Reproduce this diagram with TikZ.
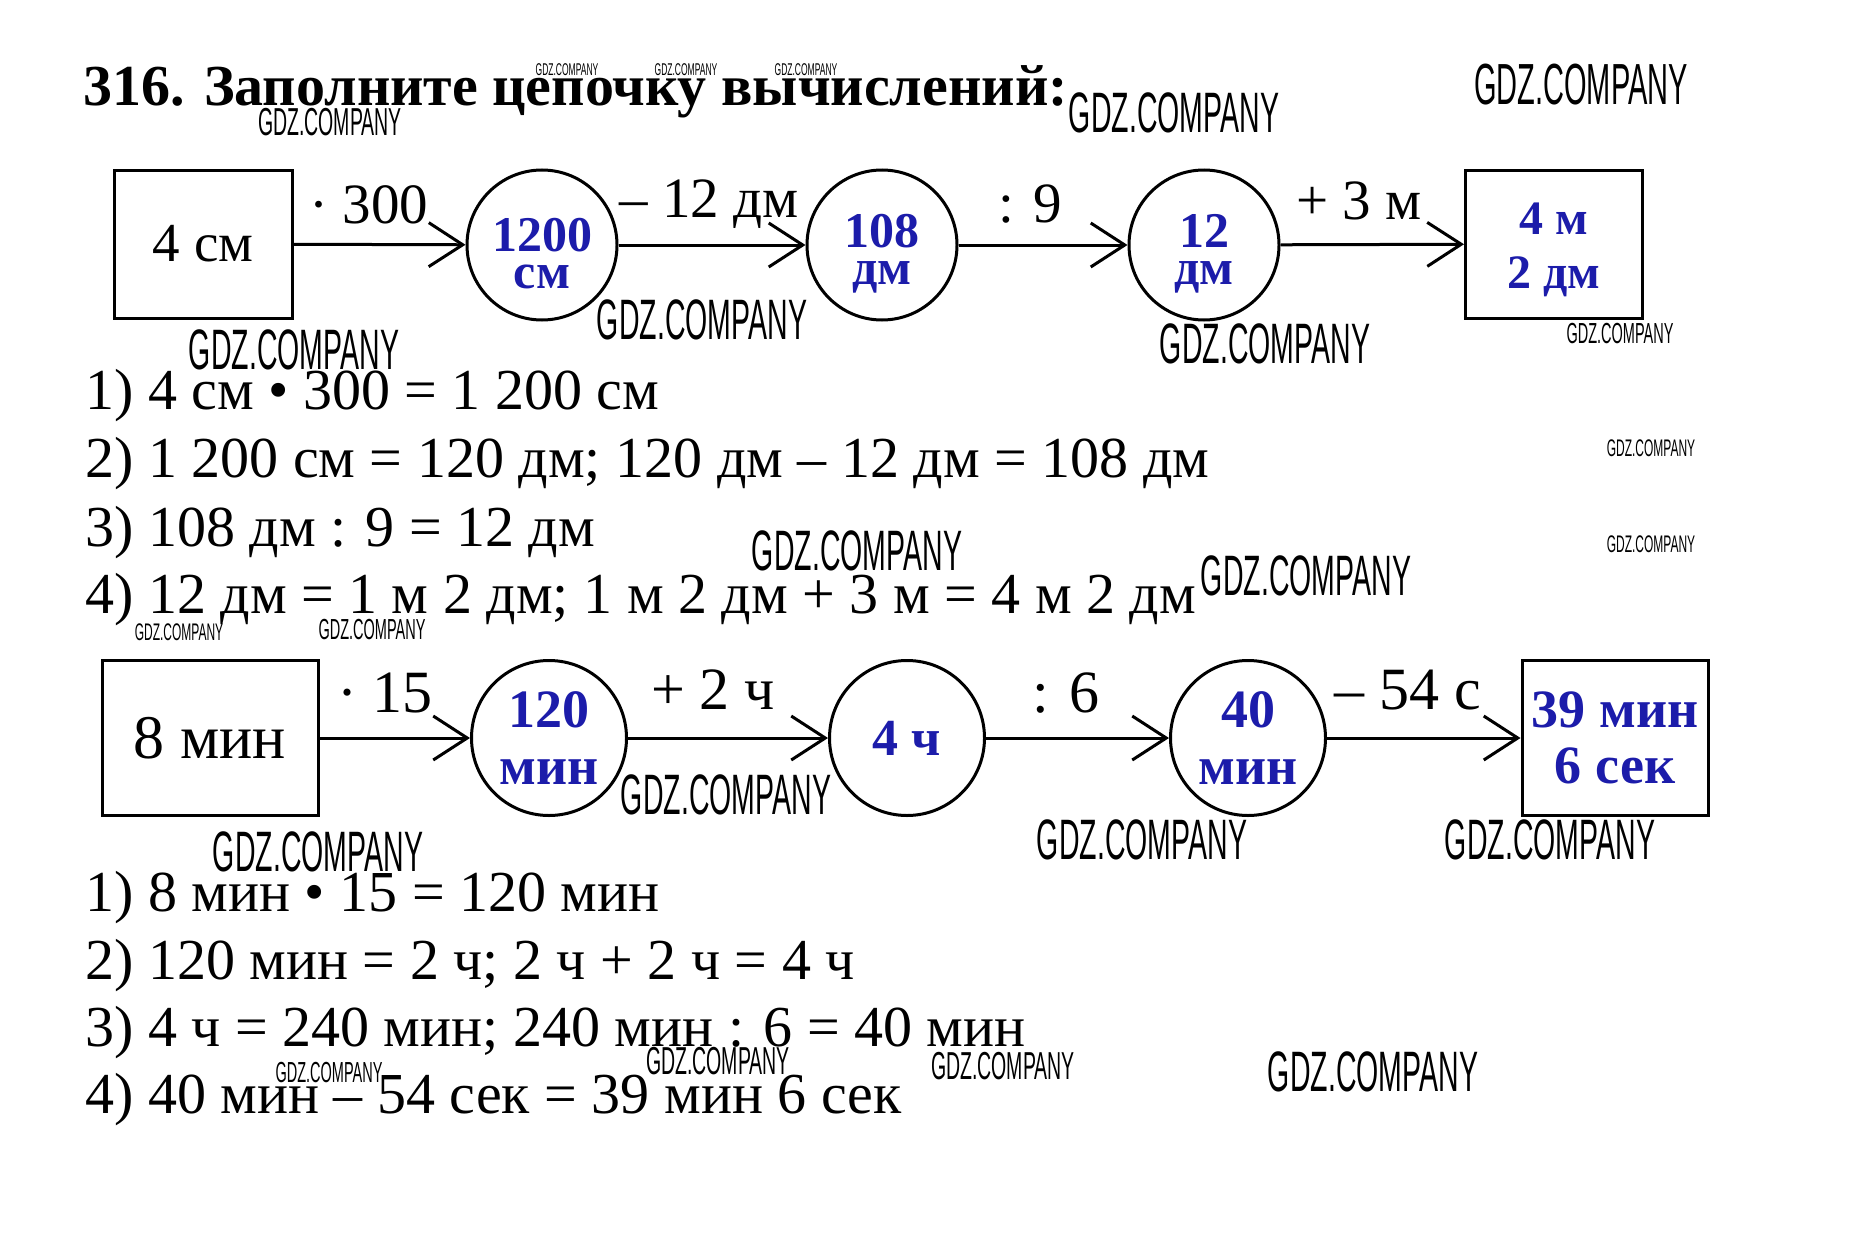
\documentclass[tikz,border=0pt]{standalone}
\usepackage{fontspec}
\setmainfont{Liberation Serif}
\newfontfamily\wmfont[FakeStretch=0.5]{Liberation Sans}
\usetikzlibrary{arrows.meta}
\definecolor{ansblue}{RGB}{28,28,170}
\tikzset{
  valbox/.style={draw, line width=3pt, inner sep=0pt},
  valcirc/.style={draw, circle, line width=3pt, inner sep=0pt, text=ansblue, align=center},
  oplabel/.style={anchor=base, inner sep=0pt},
  chainarr/.style={-{Straight Barb[length=34pt,width=44pt]}, line width=3pt},
  solline/.style={anchor=base west, inner sep=0pt, font=\fontsize{58}{60}\selectfont},
  wm/.style={inner sep=0pt, font=\wmfont\fontsize{#1}{#1}\selectfont},
}
\begin{document}
\begin{tikzpicture}[x=1pt, y=-1pt]
  \fill[white] (0,0) rectangle (1860,1236);
  \useasboundingbox (0,0) rectangle (1860,1236);
  \node[anchor=base west, inner sep=0pt, font=\bfseries\fontsize{58}{60}\selectfont] (title) at (83,106) {316. Заполните цепочку вычислений:};
  % first chain
  \node[valbox, minimum width=178pt, minimum height=148pt, font=\fontsize{55}{55}\selectfont] (a0) at (203,244) {4 см};
  \node[valcirc, minimum size=150pt, text height=87pt, font=\bfseries\fontsize{50}{37}\selectfont] (a1) at (542,245) {1200\\см};
  \node[valcirc, minimum size=150pt, text height=87pt, font=\bfseries\fontsize{50}{37}\selectfont] (a2) at (882,245) {108\\дм};
  \node[valcirc, minimum size=150pt, text height=87pt, font=\bfseries\fontsize{50}{37}\selectfont] (a3) at (1204,245) {12\\дм};
  \node[valbox, minimum width=177pt, minimum height=148pt, text=ansblue, align=center, text height=98pt, font=\bfseries\fontsize{48}{54}\selectfont] (a4) at (1554,244) {4 м\\2 дм};
  \draw [chainarr] (a0) -- (a1);
  \draw [chainarr] (a1) -- (a2);
  \draw [chainarr] (a2) -- (a3);
  \draw [chainarr] (a3) -- (a4);
  \node[oplabel, font=\fontsize{57}{57}\selectfont] (p1) at (369,223) {· 300};
  \node[oplabel, font=\fontsize{57}{57}\selectfont] (p2) at (709,217) {– 12 дм};
  \node[oplabel, font=\fontsize{57}{57}\selectfont] (p3) at (1030,222) {: 9};
  \node[oplabel, font=\fontsize{57}{57}\selectfont] (p4) at (1359,219) {+ 3 м};
  \node[solline] (s1) at (85,409) {1) 4 см • 300 = 1 200 см};
  \node[solline] (s2) at (85,477) {2) 1 200 см = 120 дм; 120 дм – 12 дм = 108 дм};
  \node[solline] (s3) at (85,546) {3) 108 дм : 9 = 12 дм};
  \node[solline] (s4) at (85,613) {4) 12 дм = 1 м 2 дм; 1 м 2 дм + 3 м = 4 м 2 дм};
  % second chain
  \node[valbox, minimum width=216pt, minimum height=155pt, font=\fontsize{62}{62}\selectfont] (b0) at (210,738) {8 мин};
  \node[valcirc, minimum size=155pt, font=\bfseries\fontsize{54}{57}\selectfont] (b1) at (549,738) {120\\мин};
  \node[valcirc, minimum size=155pt, font=\bfseries\fontsize{52}{57}\selectfont] (b2) at (907,738) {4 ч};
  \node[valcirc, minimum size=155pt, font=\bfseries\fontsize{54}{57}\selectfont] (b3) at (1248,738) {40\\мин};
  \node[valbox, minimum width=186pt, minimum height=155pt, text=ansblue, align=center, font=\bfseries\fontsize{54}{56}\selectfont] (b4) at (1615,738) {39 мин\\6 сек};
  \draw [chainarr] (b0) -- (b1);
  \draw [chainarr] (b1) -- (b2);
  \draw [chainarr] (b2) -- (b3);
  \draw [chainarr] (b3) -- (b4);
  \node[oplabel, font=\fontsize{60}{60}\selectfont] (q1) at (385,712) {· 15};
  \node[oplabel, font=\fontsize{60}{60}\selectfont] (q2) at (713,709) {+ 2 ч};
  \node[oplabel, font=\fontsize{60}{60}\selectfont] (q3) at (1066,712) {: 6};
  \node[oplabel, font=\fontsize{60}{60}\selectfont] (q4) at (1408,709) {– 54 с};
  \node[solline] (t1) at (85,911) {1) 8 мин • 15 = 120 мин};
  \node[solline] (t2) at (85,979) {2) 120 мин = 2 ч; 2 ч + 2 ч = 4 ч};
  \node[solline] (t3) at (85,1046) {3) 4 ч = 240 мин; 240 мин : 6 = 40 мин};
  \node[solline] (t4) at (85,1113) {4) 40 мин – 54 сек = 39 мин 6 сек};
  % watermarks
  \foreach \x/\y/\s [count=\i] in {567/70/17, 686/70/17, 806/70/17, 330/122/39,
      1174/113/57, 1581/85/58, 294/350/57, 702/320/57, 1265/344/57, 1620/334/29,
      1651/448/24, 1651/544/24, 857/551/57, 1306/576/57, 179/632/24, 372/630/29,
      726/795/57, 318/852/57, 1142/840/57, 1550/840/57, 329/1073/29, 718/1061/39,
      1003/1066/39, 1373/1072/57}
    \node[wm=\s] (w\i) at (\x,\y) {GDZ.COMPANY};
\end{tikzpicture}
\end{document}
